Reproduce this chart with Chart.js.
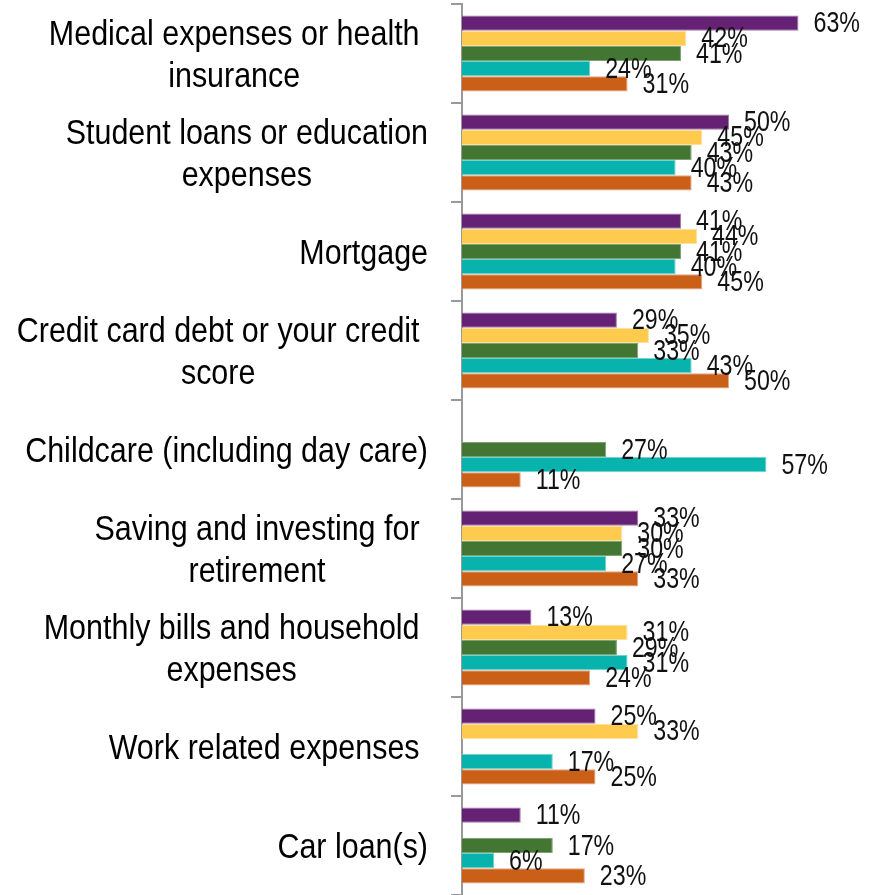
<!DOCTYPE html>
<html>
<head>
<meta charset="utf-8">
<script src="https://cdn.jsdelivr.net/npm/chart.js@4.4.1/dist/chart.umd.min.js"></script>
<style>
  html, body { margin: 0; padding: 0; background: #fff; }
  #wrap { width: 877px; height: 895px; position: relative; }
</style>
</head>
<body>
<div id="wrap"><canvas id="worryChart"></canvas></div>
<script>
// Category names (wrapped the way they are printed; a trailing space pads the block)
const categories = [
    ['Medical expenses or health ', 'insurance'],
    ['Student loans or education', 'expenses'],
    ['Mortgage'],
    ['Credit card debt or your credit ', 'score'],
    ['Childcare (including day care)'],
    ['Saving and investing for ', 'retirement'],
    ['Monthly bills and household ', 'expenses'],
    ['Work related expenses '],
    ['Car loan(s)']
];

// Percent values per group, null where a group has no bar
const purpleValues = [63, 50, 41, 29, null, 33, 13, 25, 11];
const yellowValues = [42, 45, 44, 35, null, 30, 31, 33, null];
const greenValues  = [41, 43, 41, 33, 27, 30, 29, null, 17];
const tealValues   = [24, 40, 40, 43, 57, 27, 31, 17, 6];
const orangeValues = [31, 43, 45, 50, 11, 33, 24, 25, 23];

const AXIS_LEFT = 462;      // where the bars start
const LABEL_RIGHT = 428;    // right edge of the category text block
const FONT = '"Liberation Sans", Arial, sans-serif';

// Category text: lines centred on each other, block right-aligned to the axis
const categoryLabels = {
    id: 'categoryLabels',
    afterDraw(chart) {
        const ctx = chart.ctx;
        const yScale = chart.scales.y;
        const squeeze = 0.87;
        const lineHeight = 41.5;
        ctx.save();
        ctx.font = '35px ' + FONT;
        ctx.fillStyle = '#000';
        ctx.textAlign = 'center';
        ctx.textBaseline = 'alphabetic';
        categories.forEach((lines, i) => {
            const cy = yScale.getPixelForValue(i);
            let widest = 0, pad = 0;
            lines.forEach(l => {
                const full = ctx.measureText(l).width * squeeze;
                const vis = ctx.measureText(l.trimEnd()).width * squeeze;
                if (vis > widest) { widest = vis; pad = full - vis; }
            });
            const cx = LABEL_RIGHT - pad - widest / 2;
            lines.forEach((line, k) => {
                const ly = cy + 12.5 + (k - (lines.length - 1) / 2) * lineHeight;
                ctx.save();
                ctx.translate(cx, ly);
                ctx.scale(squeeze, 1);
                ctx.fillText(line.trimEnd(), 0, 0);
                ctx.restore();
            });
        });
        ctx.restore();
    }
};

// Value labels to the right of every bar
const valueLabels = {
    id: 'valueLabels',
    afterDatasetsDraw(chart) {
        const ctx = chart.ctx;
        const squeeze = 0.8;
        ctx.save();
        ctx.font = '29px ' + FONT;
        ctx.fillStyle = '#111';
        ctx.textAlign = 'left';
        ctx.textBaseline = 'middle';
        chart.data.datasets.forEach((ds, di) => {
            chart.getDatasetMeta(di).data.forEach((bar, i) => {
                const v = ds.data[i];
                if (v === null || v === undefined) return;
                ctx.save();
                ctx.translate(bar.x + 15, bar.y + 1);
                ctx.scale(squeeze, 1);
                ctx.fillText(v + '%', 0, 0);
                ctx.restore();
            });
        });
        ctx.restore();
    }
};

function makeSet(label, data, fill, edge) {
    return {
        label: label,
        data: data,
        backgroundColor: fill,
        borderColor: edge,
        borderWidth: 1,
        barPercentage: 1.0,
        categoryPercentage: 0.77
    };
}

const ctx = document.getElementById('worryChart').getContext('2d');
new Chart(ctx, {
    type: 'bar',
    data: {
        labels: categories.map(c => c.join(' ')),
        datasets: [
            makeSet('Group 1', purpleValues, '#652173', '#a07aa9'),
            makeSet('Group 2', yellowValues, '#fecb4e', '#ffe09a'),
            makeSet('Group 3', greenValues, '#437632', '#7fa273'),
            makeSet('Group 4', tealValues, '#07b3ac', '#6fd3ce'),
            makeSet('Group 5', orangeValues, '#ca5f17', '#e8a480')
        ]
    },
    options: {
        indexAxis: 'y',
        responsive: true,
        maintainAspectRatio: false,
        animation: false,
        layout: { padding: { top: 4, right: 0, bottom: 0, left: 0 } },
        plugins: {
            legend: { display: false },
            tooltip: { enabled: false }
        },
        scales: {
            x: {
                display: false,
                min: 0,
                max: 77.7
            },
            y: {
                position: 'left',
                ticks: { display: false },
                grid: {
                    drawOnChartArea: false,
                    drawTicks: true,
                    tickLength: 11,
                    color: '#999',
                    lineWidth: 2
                },
                border: { display: true, color: '#999', width: 2 },
                afterFit(scale) {
                    scale.width = AXIS_LEFT;
                }
            }
        }
    },
    plugins: [categoryLabels, valueLabels]
});
</script>
</body>
</html>
